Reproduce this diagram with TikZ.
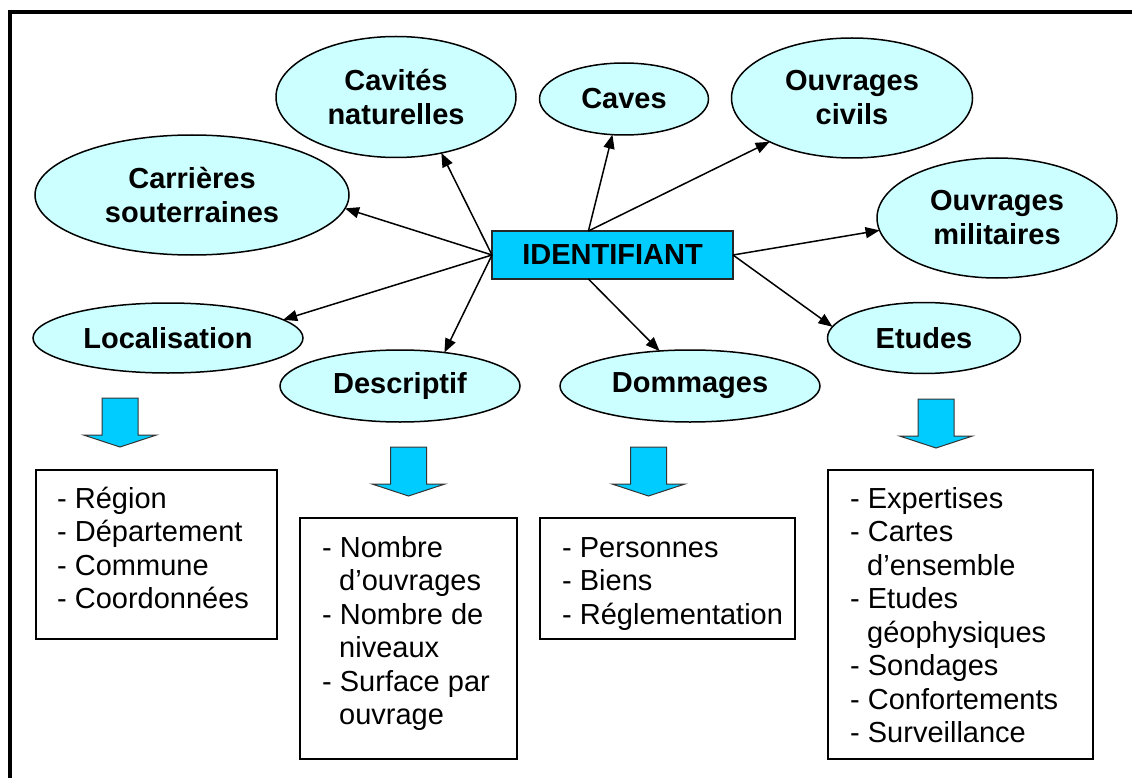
\documentclass[tikz,border=0pt]{standalone}
\usepackage{fontspec}
\setmainfont{Liberation Sans}
\usetikzlibrary{shapes.geometric,arrows.meta,calc}
\definecolor{ellfill}{HTML}{CCFFFF}
\definecolor{boxfill}{HTML}{00CCFF}
\begin{document}
\begin{tikzpicture}[x=1pt,y=-1pt,
  bubble/.style={ellipse, draw=black, line width=1.5pt, fill=ellfill, inner sep=0pt, outer sep=0pt,
    align=center, font=\bfseries\fontsize{29}{34}\selectfont},
  link/.style={line width=1.5pt, -{Triangle[length=14pt,width=11pt]}},
  listbox/.style={draw=black, line width=2pt, fill=white, anchor=north west, inner sep=0pt, outer sep=0pt},
  listtext/.style={anchor=north west, inner sep=0pt, align=left, font=\fontsize{29}{33.5}\selectfont},
  bigarrow/.style={fill=boxfill, draw=black!80, line width=1pt, line join=miter},
  downarrow/.pic={\draw[bigarrow] (-18,0) -- (18,0) -- (18,37) -- (36.5,37) -- (0,49) -- (-36.5,37) -- (-18,37) -- cycle;}
]
\useasboundingbox (0,0) rectangle (1132,778);
% outer frame (cropped at right and bottom)
\draw[line width=4pt] (10,790) -- (10,12) -- (1145,12);

% central box
\node[draw=black!85, line width=2pt, fill=boxfill, minimum width=241pt, minimum height=48pt,
  inner sep=0pt, outer sep=0pt, font=\bfseries\fontsize{29}{34}\selectfont] (id) at (612.5,255) {IDENTIFIANT};

% bubbles
\node[bubble, minimum width=314pt, minimum height=120pt] (carr) at (192,195) {Carrières\\souterraines};
\node[bubble, minimum width=240pt, minimum height=121pt] (cav) at (396,97) {Cavités\\naturelles};
\node[bubble, minimum width=169pt, minimum height=72pt] (caves) at (624,99) {Caves};
\node[bubble, minimum width=241pt, minimum height=120pt] (civ) at (852,98) {Ouvrages\\civils};
\node[bubble, minimum width=240pt, minimum height=120pt] (mil) at (997,218) {Ouvrages\\militaires};
\node[bubble, minimum width=270pt, minimum height=70pt] (loc) at (168,338) {Localisation};
\node[bubble, minimum width=240pt, minimum height=72pt] (desc) at (400,386) {Descriptif};
\node[bubble, minimum width=260pt, minimum height=72pt] (dom) at (690,386) {Dommages};
\node[bubble, minimum width=193pt, minimum height=71pt] (etu) at (924,338) {Etudes};

% connectors
\coordinate (idT) at ($(id.north west)!0.4!(id.north east)$);
\coordinate (idB) at ($(id.south west)!0.4!(id.south east)$);
\draw[link] (id.west) -- (carr.-5);
\draw[link] (id.west) -- (cav.-51);
\draw[link] (idT) -- (caves.-108);
\draw[link] (idT) -- (civ.-152);
\draw[link] (id.east) -- (mil.-174);
\draw[link] (id.east) -- (etu.173);
\draw[link] (idB) -- (dom.131);
\draw[link] (id.west) -- (desc.37);
\draw[link] (id.west) -- (loc.9);

% block arrows
\pic at (120,398) {downarrow};
\pic at (408.5,447) {downarrow};
\pic at (648.5,447) {downarrow};
\pic at (936,399) {downarrow};

% list boxes
\node[listbox, minimum width=241pt, minimum height=169pt] (locbox) at (36,470) {};
\node[listbox, minimum width=217pt, minimum height=241pt] (descbox) at (300,518) {};
\node[listbox, minimum width=255pt, minimum height=121pt] (dombox) at (540,518) {};
\node[listbox, minimum width=265pt, minimum height=289pt] (etubox) at (828,470) {};

\node[listtext] (loctext) at (57,482) {\rule{0pt}{26pt}- Région\\- Département\\- Commune\\- Coordonnées};
\node[listtext] (desctext) at (322,531) {\rule{0pt}{26pt}- Nombre\\\hspace*{17pt}d’ouvrages\\- Nombre de\\\hspace*{17pt}niveaux\\- Surface par\\\hspace*{17pt}ouvrage};
\node[listtext] (domtext) at (562,531) {\rule{0pt}{26pt}- Personnes\\- Biens\\- Réglementation};
\node[listtext] (etutext) at (850,482) {\rule{0pt}{26pt}- Expertises\\- Cartes\\\hspace*{17pt}d’ensemble\\- Etudes\\\hspace*{17pt}géophysiques\\- Sondages\\- Confortements\\- Surveillance};
\end{tikzpicture}
\end{document}
